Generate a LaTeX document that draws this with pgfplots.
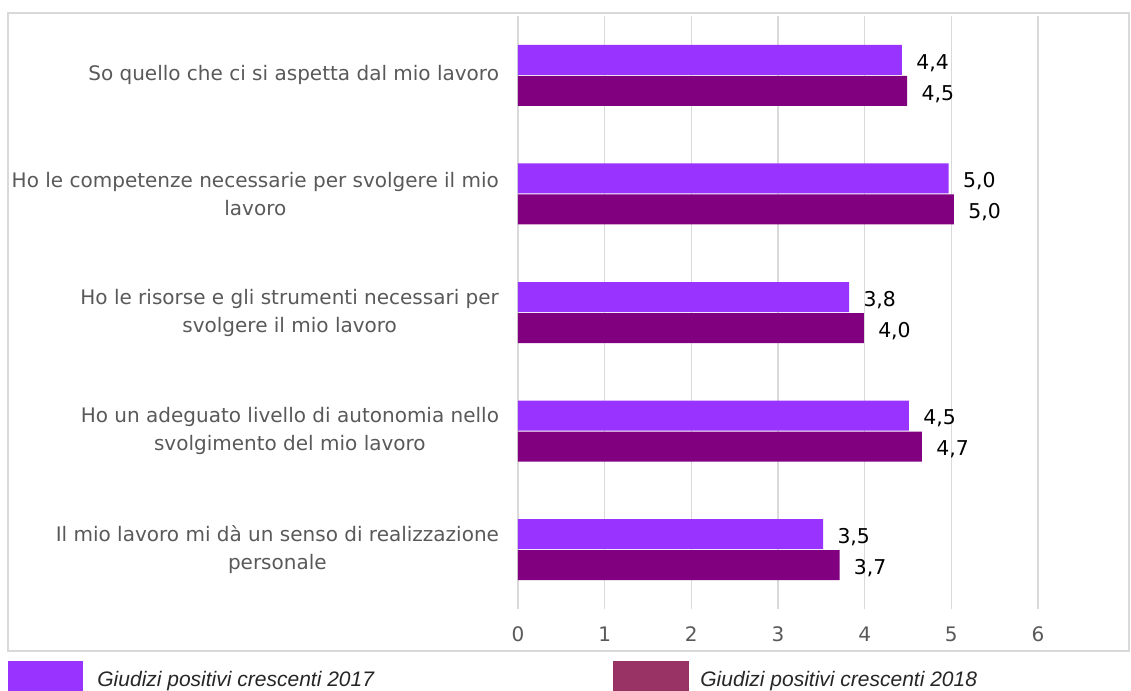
\documentclass[border=0pt]{standalone}
\usepackage{pgfplots}
\pgfplotsset{compat=1.18}
\usepackage{fontspec}
\setmainfont{DejaVu Sans}
\newfontfamily\legendfont{Liberation Sans}
\definecolor{viola17}{HTML}{9933FF}
\definecolor{viola18}{HTML}{800080}
\definecolor{legenda18}{HTML}{993366}
\definecolor{griglia}{HTML}{D9D9D9}
\definecolor{testo}{HTML}{595959}

\begin{document}
\begin{tikzpicture}
\useasboundingbox (0,0) rectangle (565.5pt,-345.5pt);
% cornice del grafico
\draw[griglia, line width=0.75pt] (4pt,-6.5pt) rectangle (564.5pt,-325.5pt);
\begin{axis}[
    at={(259pt,-304.5pt)}, anchor=south west,
    scale only axis, width=260pt, height=296.5pt,
    xbar, bar width=15pt,
    xmin=0, xmax=6, ymin=-0.5, ymax=4.5,
    y dir=reverse,
    xtick={0,...,6},
    ytick={0,...,4},
    yticklabels={
        {So quello che ci si aspetta dal mio lavoro},
        {Ho le competenze necessarie per svolgere il mio\\lavoro},
        {Ho le risorse e gli strumenti necessari per\\svolgere il mio lavoro},
        {Ho un adeguato livello di autonomia nello\\svolgimento del mio lavoro},
        {Il mio lavoro mi dà un senso di realizzazione\\personale}},
    yticklabel style={align=center, text=testo, font=\fontsize{10}{14}\selectfont, xshift=-6pt},
    xticklabel style={text=testo, font=\fontsize{10}{12}\selectfont, yshift=-5.5pt},
    /pgf/number format/assume math mode=true,
    xmajorgrids, grid style={griglia, line width=0.75pt},
    axis line style={draw=none},
    major tick length=0pt,
    point meta=x,
    nodes near coords={\pgfmathprintnumber[fixed,fixed zerofill,precision=1,use comma,assume math mode=true]{\pgfplotspointmeta}},
    nodes near coords style={font=\fontsize{10.2}{12}\selectfont, text=black, xshift=3.7pt, yshift=-1.5pt},
    clip=false,
]
\addplot[fill=viola17, draw=none, bar shift=7.75pt] coordinates {
    (4.43,0) (4.97,1) (3.82,2) (4.51,3) (3.52,4)
};
\addplot[fill=viola18, draw=none, bar shift=-7.75pt] coordinates {
    (4.49,0) (5.03,1) (3.99,2) (4.66,3) (3.71,4)
};
\end{axis}
% legenda
\fill[viola17] (4pt,-330.5pt) rectangle (41.5pt,-345.5pt);
\node[anchor=base west, inner sep=0, text=black!85, font=\legendfont\itshape\fontsize{10.5}{12}\selectfont]
    at (48.5pt,-343pt) {Giudizi positivi crescenti 2017};
\fill[legenda18] (306.5pt,-330.5pt) rectangle (344.5pt,-345.5pt);
\node[anchor=base west, inner sep=0, text=black!85, font=\legendfont\itshape\fontsize{10.5}{12}\selectfont]
    at (350pt,-343pt) {Giudizi positivi crescenti 2018};
\end{tikzpicture}
\end{document}
